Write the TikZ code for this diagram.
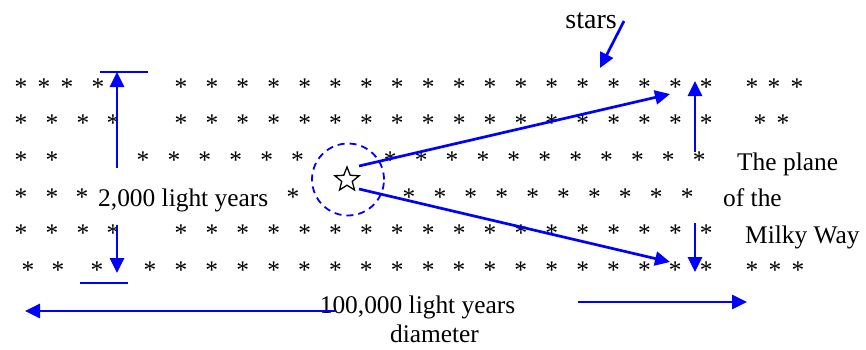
\documentclass[tikz,border=0pt]{standalone}
\usepackage{fontspec}
\setmainfont{Liberation Serif}
\usetikzlibrary{arrows.meta,shapes.geometric}
\begin{document}
\begin{tikzpicture}[x=1pt,y=-1pt,
  ast/.style={font=\fontsize{25.4}{30}\selectfont, inner sep=0pt, anchor=base},
  lbl/.style={font=\fontsize{25.4}{30}\selectfont, inner sep=0pt},
  barrow/.style={draw=blue, line width=2.7pt, -{Triangle[length=15pt,width=14pt]}},
  bline/.style={draw=blue, line width=2.2pt},
]
\useasboundingbox (0,0) rectangle (866,349);
% ---- row 1 ----
\foreach \x [count=\i] in {21,44,67,98,752,774,797}
  \node[ast] (ra\i) at (\x,95.2) {*};
\foreach \k in {0,...,17}
  \node[ast] (rb\k) at ({181+30.9*\k},95.2) {*};
% ---- row 2 ----
\foreach \x [count=\i] in {21,52,83,113,760,783}
  \node[ast] (sa\i) at (\x,131.9) {*};
\foreach \k in {0,...,17}
  \node[ast] (sb\k) at ({181+30.9*\k},131.9) {*};
% ---- row 3 ----
\foreach \x [count=\i] in {21,52}
  \node[ast] (ta\i) at (\x,168.6) {*};
\foreach \k in {0,...,5,8,9,10,11,12,13,14,15,16,17,18}
  \node[ast] (tb\k) at ({143+30.9*\k},168.6) {*};
% ---- row 4 ----
\foreach \x [count=\i] in {21,52,82,293}
  \node[ast] (ua\i) at (\x,205.2) {*};
\foreach \k in {0,...,9}
  \node[ast] (ub\k) at ({409+30.9*\k},205.2) {*};
% ---- row 5 ----
\foreach \x [count=\i] in {21,52,83,113}
  \node[ast] (va\i) at (\x,241.9) {*};
\foreach \k in {0,...,17}
  \node[ast] (vb\k) at ({181+30.9*\k},241.9) {*};
% ---- row 6 ----
\foreach \x [count=\i] in {28,58,97,752,775,798}
  \node[ast] (wa\i) at (\x,278.9) {*};
\foreach \k in {0,...,18}
  \node[ast] (wb\k) at ({150+30.9*\k},278.9) {*};

% ---- labels ----
\node[lbl, anchor=base west] (thick) at (98,206.5) {2,000 light years};
\node[lbl, anchor=base] (dia1) at (417.5,313) {100,000 light years};
\node[lbl, anchor=base] (dia2) at (434.5,342) {diameter};
\node[lbl, anchor=base west] (pl1) at (737,170) {The plane};
\node[lbl, anchor=base west] (pl2) at (723,206) {of the};
\node[lbl, anchor=base west] (pl3) at (745,243) {Milky Way};
\node[font=\fontsize{28}{32}\selectfont, inner sep=0pt, anchor=base east] (starslbl) at (617,28) {stars};

% ---- sun and view circle ----
\node[circle, draw=blue, line width=1.8pt, dash pattern=on 7pt off 5pt,
      minimum size=72pt, inner sep=0pt] (view) at (348,179.5) {};
\node[star, star points=5, star point ratio=2.3, draw=black, line width=1.3pt,
      minimum size=25.4pt, inner sep=0pt] (sun) at (347,179.7) {};

% ---- coordinates ----
\coordinate (tlA) at (100,72);   \coordinate (tlB) at (148,72);
\coordinate (blA) at (80,283);   \coordinate (blB) at (128,283);
\coordinate (upS) at (117,168);  \coordinate (upE) at (117,72);
\coordinate (dnS) at (117,225);  \coordinate (dnE) at (117,273);
\coordinate (lfS) at (335,311);  \coordinate (lfE) at (25,311);
\coordinate (rtS) at (578,302);  \coordinate (rtE) at (747,302);
\coordinate (d1S) at (359,166);  \coordinate (d1E) at (670,94);
\coordinate (d2S) at (359,189);  \coordinate (d2E) at (670,262);
\coordinate (ruS) at (695,152);  \coordinate (ruE) at (695,81);
\coordinate (rdS) at (695,223);  \coordinate (rdE) at (695,272);
\coordinate (stS) at (624,21);   \coordinate (stE) at (600,68);

% ---- connectors ----
\draw[bline] (tlA) -- (tlB);
\draw[bline] (blA) -- (blB);
\draw[barrow] (upS) -- (upE);
\draw[barrow] (dnS) -- (dnE);
\draw[barrow] (lfS) -- (lfE);
\draw[barrow] (rtS) -- (rtE);
\draw[barrow] (d1S) -- (d1E);
\draw[barrow] (d2S) -- (d2E);
\draw[barrow] (ruS) -- (ruE);
\draw[barrow] (rdS) -- (rdE);
\draw[barrow] (stS) -- (stE);
\end{tikzpicture}
\end{document}
